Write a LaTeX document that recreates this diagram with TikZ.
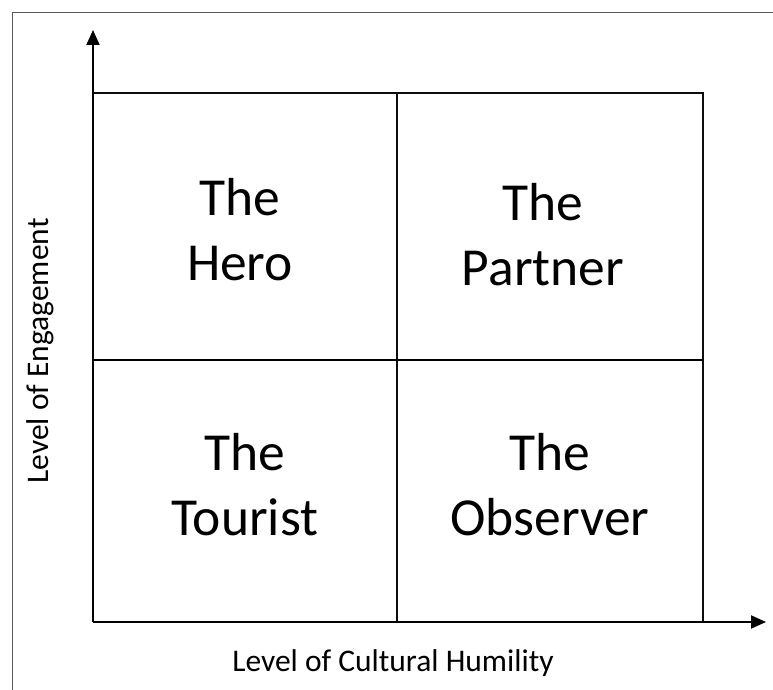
\documentclass[tikz,border=0pt]{standalone}
\usepackage{fontspec}
\setmainfont{Carlito}
\usetikzlibrary{arrows.meta}
\begin{document}
\begin{tikzpicture}[x=1pt,y=1pt,
  cell/.style={draw=none,align=center,font=\fontsize{53.5}{65}\selectfont,inner sep=0pt},
  axislabel/.style={font=\fontsize{31.5}{36}\selectfont,inner sep=0pt},
  gridline/.style={line width=1.8pt,black!95},
  axis/.style={line width=2pt,black,-{Triangle[length=15pt,width=13pt]}}]
\useasboundingbox (0,0) rectangle (773,690);
% outer frame (only top and left edges lie inside the page)
\draw[line width=1pt,black!65] (12,-10) -- (12,677) -- (790,677);
% corners of the quadrant grid
\coordinate (o) at (93,68);
\coordinate (m) at (397,330);
\coordinate (t) at (703,597);
\coordinate (ytip) at (93,660);
\coordinate (xtip) at (766,68);
% grid
\draw[gridline] (o |- t) -- (t) -- (t |- o);
\draw[gridline] (m |- o) -- (m |- t);
\draw[line width=2.6pt,black] (o |- m) -- (t |- m);
% axes
\draw[axis] (o) -- (ytip);
\draw[axis] (o) -- (xtip);
% quadrant labels
\node[cell] (hero) at (240,460) {The\\Hero};
\node[cell] (partner) at (543,455) {The\\Partner};
\node[cell] (tourist) at (245,205) {The\\Tourist};
\node[cell] (observer) at (550,205) {The\\Observer};
% axis titles
\node[axislabel] (xlab) at (393,27) {Level of Cultural Humility};
\node[axislabel,rotate=90] (ylab) at (40,339) {Level of Engagement};
\end{tikzpicture}
\end{document}
